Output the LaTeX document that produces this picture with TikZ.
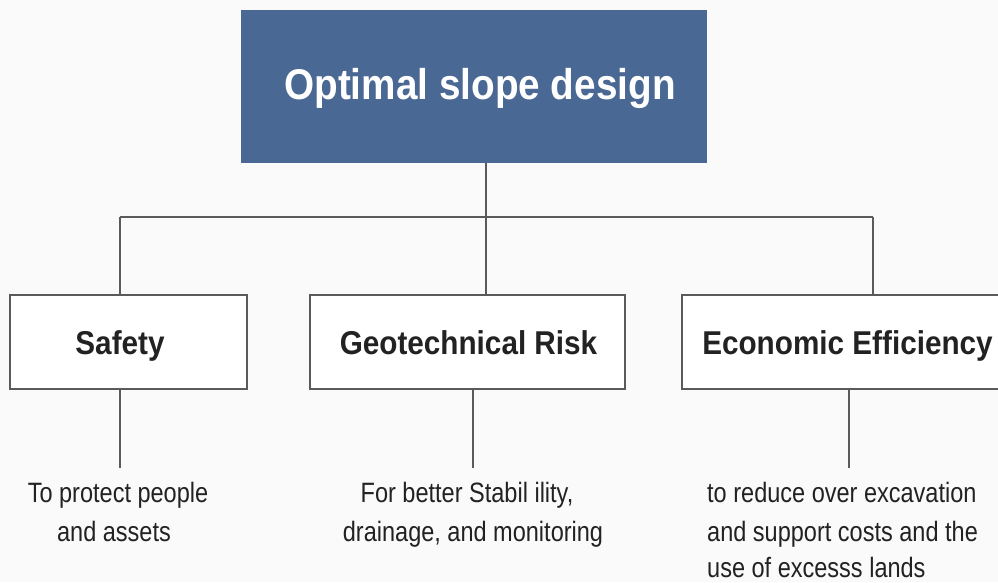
\documentclass[tikz,border=0pt]{standalone}
\usepackage{fontspec}
\setmainfont{Liberation Sans}[FakeStretch=0.9]
\newfontfamily\descfont{Liberation Sans}[FakeStretch=0.84]
\definecolor{paper}{HTML}{FAFAFA}
\definecolor{headblue}{HTML}{4A6894}
\definecolor{rule}{HTML}{5A5A5A}
\definecolor{ink}{HTML}{222222}
\begin{document}
\begin{tikzpicture}[x=1pt,y=-1pt,
  link/.style={draw=rule,line width=1.4pt},
  headbox/.style={rectangle,fill=headblue,draw=none,inner sep=0pt},
  catbox/.style={rectangle,draw=rule,line width=1.4pt,fill=white,inner sep=0pt,minimum height=94pt},
  headtxt/.style={anchor=base,inner sep=0pt,text=white,font=\fontsize{43}{50}\selectfont\bfseries},
  cattxt/.style={anchor=base,inner sep=0pt,text=ink,font=\fontsize{33}{40}\selectfont\bfseries},
  desc/.style={anchor=base,inner sep=0pt,text=ink,font=\descfont\fontsize{28}{39}\selectfont},
  descl/.style={desc,anchor=base west}]
\fill[paper] (0,0) rectangle (998,582);
\useasboundingbox (0,0) rectangle (998,582);

% head box
\node[headbox,minimum width=466pt,minimum height=153pt] (top) at (474,86.5) {};
\node[headtxt] (toptxt) at (480,99) {Optimal slope design};

% category boxes
\node[catbox,minimum width=237pt] (safety) at (128.5,342) {};
\node[catbox,minimum width=315pt] (geo) at (467.5,342) {};
\node[catbox,minimum width=318pt] (eco) at (841,342) {};
\node[cattxt] (safetytxt) at (120,354) {Safety};
\node[cattxt] (geotxt) at (468.5,354) {Geotechnical Risk};
\node[cattxt] (ecotxt) at (847.5,354) {Economic Efficiency};

% tree connectors
\coordinate (hub) at (486,217);
\coordinate (jS) at (120,217);
\coordinate (jE) at (873,217);
\draw[link] (hub |- top.south) -- (hub);
\draw[link] (jS) -- (jE);
\draw[link] (jS) -- (jS |- safety.north);
\draw[link] (hub) -- (hub |- geo.north);
\draw[link] (jE) -- (jE |- eco.north);

% leader lines to the descriptions
\coordinate (dS) at (120,468);
\coordinate (dG) at (473,468);
\coordinate (dE) at (849,468);
\draw[link] (dS |- safety.south) -- (dS);
\draw[link] (dG |- geo.south) -- (dG);
\draw[link] (dE |- eco.south) -- (dE);

% descriptions
\node[desc] (s1) at (118,502) {To protect people};
\node[desc] (s2) at (114,541) {and assets};
\node[desc] (g1) at (467,502) {For better Stabil ility,};
\node[desc] (g2) at (473,541) {drainage, and monitoring};
\node[descl] (e1) at (707,502) {to reduce over excavation};
\node[descl] (e2) at (707,541) {and support costs and the};
\node[descl] (e3) at (707,577) {use of excesss lands};
\end{tikzpicture}
\end{document}
